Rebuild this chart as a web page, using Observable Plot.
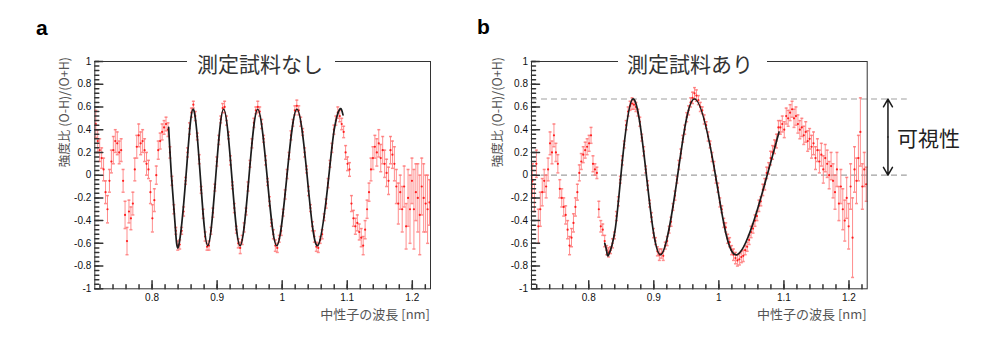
<!DOCTYPE html>
<html><head><meta charset="utf-8">
<script src="https://cdn.jsdelivr.net/npm/d3@7"></script>
<script src="https://cdn.jsdelivr.net/npm/@observablehq/plot@0.6"></script>
<style>
html,body{margin:0;padding:0;background:#fff;}
#wrap{position:relative;width:1000px;height:351px;overflow:hidden;}
.panel{position:absolute;top:0;}
#overlay{position:absolute;left:0;top:0;pointer-events:none;}
</style></head><body><div id="wrap"><div class="panel" id="pa" style="left:0"></div><div class="panel" id="pb" style="left:470px"></div></div>
<script>
// ---- data ----
const wavelength = [
0.7135,0.7165,0.7195,0.7225,0.7255,0.7285,0.7315,0.7345,0.7375,0.7405,
0.7435,0.7465,0.7495,0.7525,0.7555,0.7585,0.7615,0.7645,0.7675,0.7705,
0.7735,0.7765,0.7795,0.7825,0.7855,0.7885,0.7915,0.7945,0.7975,0.8005,
0.8035,0.8065,0.8095,0.8125,0.8155,0.8185,0.8215,0.8245,0.8275,0.8305,
0.8335,0.8365,0.8395,0.8425,0.8455,0.8485,0.8515,0.8545,0.8575,0.8605,
0.8635,0.8665,0.8695,0.8725,0.8755,0.8785,0.8815,0.8845,0.8875,0.8905,
0.8935,0.8965,0.8995,0.9025,0.9055,0.9085,0.9115,0.9145,0.9175,0.9205,
0.9235,0.9265,0.9295,0.9325,0.9355,0.9385,0.9415,0.9445,0.9475,0.9505,
0.9535,0.9565,0.9595,0.9625,0.9655,0.9685,0.9715,0.9745,0.9775,0.9805,
0.9835,0.9865,0.9895,0.9925,0.9955,0.9985,1.0015,1.0045,1.0075,1.0105,
1.0135,1.0165,1.0195,1.0225,1.0255,1.0285,1.0315,1.0345,1.0375,1.0405,
1.0435,1.0465,1.0495,1.0525,1.0555,1.0585,1.0615,1.0645,1.0675,1.0705,
1.0735,1.0765,1.0795,1.0825,1.0855,1.0885,1.0915,1.0945,1.0975,1.1005,
1.1035,1.1065,1.1095,1.1125,1.1155,1.1185,1.1215,1.1245,1.1275,1.1305,
1.1335,1.1365,1.1395,1.1425,1.1455,1.1485,1.1515,1.1545,1.1575,1.1605,
1.1635,1.1665,1.1695,1.1725,1.1755,1.1785,1.1815,1.1845,1.1875,1.1905,
1.1935,1.1965,1.1995,1.2025,1.2055,1.2085,1.2115,1.2145,1.2175,1.2205,
1.2235,1.2265];

// panel a: without sample
const ratioA = [
0.45,0.30,0.22,0.15,0.05,-0.15,-0.30,-0.05,0.12,0.22,
0.30,0.28,0.20,0.22,-0.05,-0.35,-0.58,-0.32,-0.38,-0.25,
0.05,0.25,0.35,0.28,0.30,0.22,0.10,0.05,-0.15,-0.38,
-0.22,0.00,0.22,0.30,0.38,0.42,0.45,0.40,0.20,-0.05,
-0.30,-0.49,-0.62,-0.61,-0.49,-0.32,-0.05,0.20,0.41,0.55,
0.62,0.52,0.34,0.14,-0.13,-0.34,-0.54,-0.63,-0.62,-0.49,
-0.33,-0.11,0.12,0.31,0.49,0.59,0.60,0.48,0.35,0.13,
-0.09,-0.29,-0.48,-0.60,-0.64,-0.57,-0.46,-0.32,-0.10,0.10,
0.28,0.46,0.57,0.60,0.56,0.45,0.32,0.13,-0.06,-0.23,
-0.42,-0.52,-0.62,-0.64,-0.56,-0.49,-0.33,-0.17,0.01,0.17,
0.35,0.46,0.57,0.61,0.57,0.47,0.38,0.20,0.05,-0.14,
-0.29,-0.45,-0.54,-0.63,-0.64,-0.57,-0.52,-0.37,-0.25,-0.07,
0.10,0.24,0.40,0.48,0.55,0.52,0.45,0.38,0.20,0.10,
0.05,-0.25,-0.38,-0.45,-0.42,-0.50,-0.55,-0.62,-0.48,-0.30,
-0.15,0.05,0.15,0.25,0.20,0.28,0.15,0.22,0.10,0.02,
-0.05,0.22,0.18,0.10,-0.10,-0.25,-0.15,-0.30,-0.10,-0.45,
-0.20,-0.30,-0.05,-0.30,-0.15,-0.20,-0.35,-0.10,-0.20,-0.25,
-0.30,-0.24];
const errA = [
0.12,0.10,0.10,0.09,0.10,0.10,0.12,0.10,0.10,0.12,
0.10,0.10,0.10,0.10,0.10,0.12,0.12,0.10,0.10,0.10,
0.10,0.10,0.10,0.10,0.10,0.10,0.10,0.08,0.10,0.12,
0.10,0.08,0.08,0.07,0.07,0.06,0.06,0.06,0.05,0.04,
0.04,0.03,0.04,0.04,0.03,0.04,0.03,0.04,0.05,0.04,
0.03,0.04,0.03,0.04,0.03,0.04,0.04,0.03,0.04,0.03,
0.04,0.03,0.04,0.04,0.03,0.04,0.05,0.04,0.03,0.04,
0.03,0.04,0.03,0.04,0.05,0.04,0.04,0.03,0.04,0.03,
0.04,0.04,0.03,0.05,0.04,0.04,0.03,0.04,0.03,0.04,
0.03,0.04,0.05,0.04,0.03,0.04,0.03,0.04,0.04,0.03,
0.04,0.03,0.04,0.05,0.04,0.04,0.03,0.04,0.03,0.04,
0.03,0.04,0.05,0.04,0.04,0.03,0.04,0.03,0.04,0.04,
0.03,0.04,0.04,0.04,0.05,0.05,0.05,0.05,0.06,0.06,
0.06,0.07,0.07,0.07,0.07,0.07,0.08,0.08,0.08,0.08,
0.08,0.10,0.10,0.10,0.12,0.12,0.12,0.12,0.12,0.12,
0.12,0.12,0.12,0.15,0.15,0.18,0.15,0.20,0.18,0.20,
0.25,0.30,0.20,0.35,0.25,0.30,0.35,0.25,0.30,0.25,
0.30,0.20];
const fitAx = [0.8255,0.830,0.8355,0.841,0.852,0.863,0.8743,0.8856,0.8978,0.910,0.9227,0.9353,0.9489,0.9624,0.977,0.9916,1.0071,1.0226,1.0386,1.0546,1.0715,1.0800,1.0884,1.0935];
const fitAy = [0.42,-0.02,-0.44,-0.62,-0.02,0.58,-0.02,-0.62,-0.02,0.58,-0.02,-0.62,-0.02,0.58,-0.02,-0.62,-0.02,0.58,-0.02,-0.62,-0.02,0.40,0.58,0.53];

// panel b: with sample
const ratioB = [
-0.05,-0.20,0.10,-0.45,-0.30,-0.15,-0.05,-0.10,0.05,0.28,
0.20,0.35,0.20,0.10,-0.12,-0.20,-0.28,-0.35,-0.48,-0.62,
-0.55,-0.42,-0.28,-0.15,0.02,0.12,0.18,0.22,0.25,0.28,
0.35,0.10,0.05,0.02,-0.30,-0.45,-0.48,-0.58,-0.66,-0.68,
-0.66,-0.60,-0.53,-0.36,-0.23,-0.04,0.13,0.27,0.44,0.56,
0.61,0.63,0.62,0.60,0.55,0.47,0.33,0.21,0.05,-0.09,
-0.25,-0.37,-0.51,-0.58,-0.67,-0.70,-0.69,-0.71,-0.62,-0.58,
-0.48,-0.41,-0.28,-0.18,-0.04,0.09,0.19,0.32,0.40,0.51,
0.57,0.64,0.68,0.72,0.70,0.66,0.60,0.57,0.49,0.44,
0.34,0.27,0.16,0.08,-0.04,-0.11,-0.24,-0.30,-0.42,-0.46,
-0.56,-0.59,-0.66,-0.70,-0.73,-0.75,-0.74,-0.72,-0.71,-0.66,
-0.63,-0.57,-0.50,-0.47,-0.40,-0.36,-0.27,-0.23,-0.13,-0.08,
0.02,0.06,0.15,0.20,0.25,0.30,0.42,0.42,0.45,0.40,
0.52,0.50,0.55,0.58,0.50,0.52,0.45,0.40,0.42,0.35,
0.38,0.30,0.32,0.25,0.28,0.15,0.22,0.12,0.18,0.05,
0.15,0.10,0.00,0.08,-0.05,-0.15,0.05,-0.25,-0.10,-0.30,
-0.40,-0.20,-0.45,-0.10,-0.55,0.05,-0.05,0.15,0.38,-0.10,
0.05,-0.08];
const errB = [
0.15,0.12,0.12,0.15,0.15,0.12,0.10,0.10,0.10,0.10,
0.10,0.10,0.08,0.08,0.08,0.08,0.08,0.08,0.08,0.08,
0.08,0.08,0.08,0.07,0.07,0.07,0.07,0.07,0.07,0.07,
0.07,0.07,0.05,0.05,0.07,0.05,0.05,0.05,0.04,0.04,
0.03,0.04,0.03,0.04,0.04,0.03,0.04,0.03,0.04,0.04,
0.04,0.05,0.04,0.04,0.03,0.04,0.03,0.04,0.03,0.04,
0.03,0.04,0.04,0.03,0.04,0.05,0.04,0.04,0.03,0.04,
0.03,0.04,0.03,0.04,0.03,0.04,0.04,0.03,0.04,0.04,
0.04,0.04,0.05,0.05,0.05,0.04,0.04,0.03,0.04,0.03,
0.04,0.03,0.04,0.04,0.03,0.04,0.04,0.03,0.04,0.04,
0.04,0.04,0.04,0.05,0.05,0.05,0.05,0.05,0.05,0.04,
0.04,0.04,0.05,0.04,0.05,0.04,0.05,0.04,0.05,0.05,
0.05,0.05,0.06,0.06,0.06,0.06,0.06,0.06,0.07,0.07,
0.07,0.07,0.07,0.07,0.08,0.08,0.08,0.08,0.08,0.08,
0.09,0.09,0.09,0.10,0.10,0.10,0.10,0.10,0.10,0.12,
0.12,0.12,0.12,0.12,0.15,0.15,0.15,0.15,0.15,0.18,
0.18,0.18,0.20,0.20,0.35,0.20,0.20,0.20,0.30,0.20,
0.15,0.15];
const fitBx = [0.8246,0.8277,0.8307,0.8400,0.8492,0.8676,0.8889,0.9102,0.9363,0.9624,0.9952,1.028,1.0735,1.0925];
const fitBy = [-0.60,-0.673,-0.70,-0.50,-0.015,0.67,-0.015,-0.70,-0.015,0.67,-0.015,-0.70,-0.015,0.38];

// visibility annotation (panel b)
const visibilityLevels = [0.67, 0];

// axes
const xDomain = [0.712, 1.228];
const yDomain = [-1, 1];
const xMajor = [0.8, 0.9, 1.0, 1.1, 1.2];
const xTickLabels = ["0.8", "0.9", "1", "1.1", "1.2"];
const yMajor = [-1, -0.8, -0.6, -0.4, -0.2, 0, 0.2, 0.4, 0.6, 0.8, 1];
const yTickLabels = ["-1", "-0.8", "-0.6", "-0.4", "-0.2", "0", "0.2", "0.4", "0.6", "0.8", "1"];
const xMinor = d3.range(0.72, 1.229, 0.02);
const yMinor = d3.range(-1, 1.0001, 0.04);

const titles = ["測定試料なし", "測定試料あり"];
const yTitle = "強度比 (O-H)/(O+H)";
const xTitle = "中性子の波長 [nm]";
const visTitle = "可視性";

// ---- drawing ----
const xLab = new Map(xMajor.map((v, i) => [v, xTickLabels[i]]));
const yLab = new Map(yMajor.map((v, i) => [v, yTickLabels[i]]));
const capSymbol = {draw(ctx, size) { const r = Math.sqrt(size / Math.PI); ctx.moveTo(-r, 0); ctx.lineTo(r, 0); }};
const tickShape = {draw(ctx, l) { ctx.moveTo(0, 0); ctx.lineTo(0, -l); }};
const AX = "#333";

function panel({ratio, err, fitX, fitY, width, marginLeft, marginRight, extra = []}) {
  const pts = wavelength.map((x, i) => ({x, y: ratio[i], lo: ratio[i] - err[i], hi: ratio[i] + err[i]}));
  const fit = fitX.map((x, i) => ({x, y: fitY[i]}));
  const barColor = "#ff7272";
  return Plot.plot({
    width, height: 351, marginLeft, marginRight, marginTop: 61, marginBottom: 62.7,
    style: {fontFamily: "'Liberation Sans', Arial, sans-serif", fontSize: "10px", background: "white"},
    x: {domain: xDomain, label: null},
    y: {domain: yDomain, label: null},
    marks: [
      ...extra,
      Plot.ruleX(pts, {x: "x", y1: "lo", y2: "hi", stroke: barColor, strokeWidth: 1, strokeOpacity: 0.8}),
      Plot.dot(pts, {x: "x", y: "lo", symbol: capSymbol, r: 1.5, stroke: barColor, fill: "none", strokeOpacity: 0.8}),
      Plot.dot(pts, {x: "x", y: "hi", symbol: capSymbol, r: 1.5, stroke: barColor, fill: "none", strokeOpacity: 0.8}),
      Plot.dot(pts, {x: "x", y: "y", r: 1.1, fill: "#ff1e1e", stroke: "none"}),
      Plot.line(fit, {x: "x", y: "y", curve: "natural", stroke: "#1c1c1c", strokeWidth: 1.7}),
      Plot.frame({stroke: AX, strokeWidth: 1}),
      Plot.vector(yMinor, {x: xDomain[0], y: d => d, rotate: 90, length: 4, anchor: "start", shape: tickShape, stroke: AX}),
      Plot.vector(yMajor, {x: xDomain[0], y: d => d, rotate: 90, length: 8, anchor: "start", shape: tickShape, stroke: AX}),
      Plot.vector(xMinor, {x: d => d, y: yDomain[0], rotate: 0, length: 4, anchor: "start", shape: tickShape, stroke: AX}),
      Plot.vector(xMajor, {x: d => d, y: yDomain[0], rotate: 0, length: 8, anchor: "start", shape: tickShape, stroke: AX}),
      Plot.axisY({ticks: yMajor, tickSize: 0, tickPadding: 3.5, tickFormat: d => yLab.get(d), color: "#111", label: null}),
      Plot.axisX({ticks: xMajor, tickSize: 0, tickPadding: 5, tickFormat: d => xLab.get(d), color: "#111", label: null})
    ]
  });
}

const arrowX = 1.2599;
const dashEnd = 1.2896;
const visMid = (visibilityLevels[0] + visibilityLevels[1]) / 2;

const plotA = panel({ratio: ratioA, err: errA, fitX: fitAx, fitY: fitAy, width: 470, marginLeft: 94.3, marginRight: 40});
const plotB = panel({ratio: ratioB, err: errB, fitX: fitBx, fitY: fitBy, width: 530, marginLeft: 61, marginRight: 133.3,
  extra: [
    Plot.ruleY(visibilityLevels, {x1: xDomain[0], x2: dashEnd, stroke: "#a0a0a0", strokeWidth: 1.2, strokeDasharray: "6,4"}),
    Plot.arrow(visibilityLevels, {x1: arrowX, x2: arrowX, y1: visMid, y2: d => d, stroke: "#1a1a1a", strokeWidth: 1.5, headLength: 9, headAngle: 60})
  ]});
document.getElementById("pa").appendChild(plotA);
document.getElementById("pb").appendChild(plotB);

// text overlay (titles, axis titles, panel letters)
const cjk = "'Noto Sans CJK JP','Noto Sans',sans-serif";
const overlay = `
<svg id="overlay" width="1000" height="351" xmlns="http://www.w3.org/2000/svg">
  <text x="36" y="35" font-family="'Liberation Sans',Arial,sans-serif" font-weight="bold" font-size="21" fill="#000">a</text>
  <text x="477" y="34" font-family="'Liberation Sans',Arial,sans-serif" font-weight="bold" font-size="21" fill="#000">b</text>
  <rect x="187" y="54" width="148" height="14" fill="#fff"/>
  <text x="260" y="62.5" text-anchor="middle" dominant-baseline="central" font-family="${cjk}" font-size="21" fill="#333">${titles[0]}</text>
  <rect x="618" y="54" width="149" height="14" fill="#fff"/>
  <text x="690" y="62.5" text-anchor="middle" dominant-baseline="central" font-family="${cjk}" font-size="21" fill="#333">${titles[1]}</text>
  <text transform="translate(63,57) rotate(-90)" text-anchor="end" dominant-baseline="central" font-family="${cjk}" font-size="12.5" fill="#555">${yTitle}</text>
  <text transform="translate(496,57) rotate(-90)" text-anchor="end" dominant-baseline="central" font-family="${cjk}" font-size="12.5" fill="#555">${yTitle}</text>
  <text x="430" y="313" text-anchor="end" dominant-baseline="central" font-family="${cjk}" font-size="13" fill="#555">${xTitle}</text>
  <text x="866.7" y="313" text-anchor="end" dominant-baseline="central" font-family="${cjk}" font-size="13" fill="#555">${xTitle}</text>
  <text x="897" y="137" dominant-baseline="central" font-family="${cjk}" font-size="21" fill="#222">${visTitle}</text>
</svg>`;
document.getElementById("wrap").insertAdjacentHTML("beforeend", overlay);
</script>
</body></html>
